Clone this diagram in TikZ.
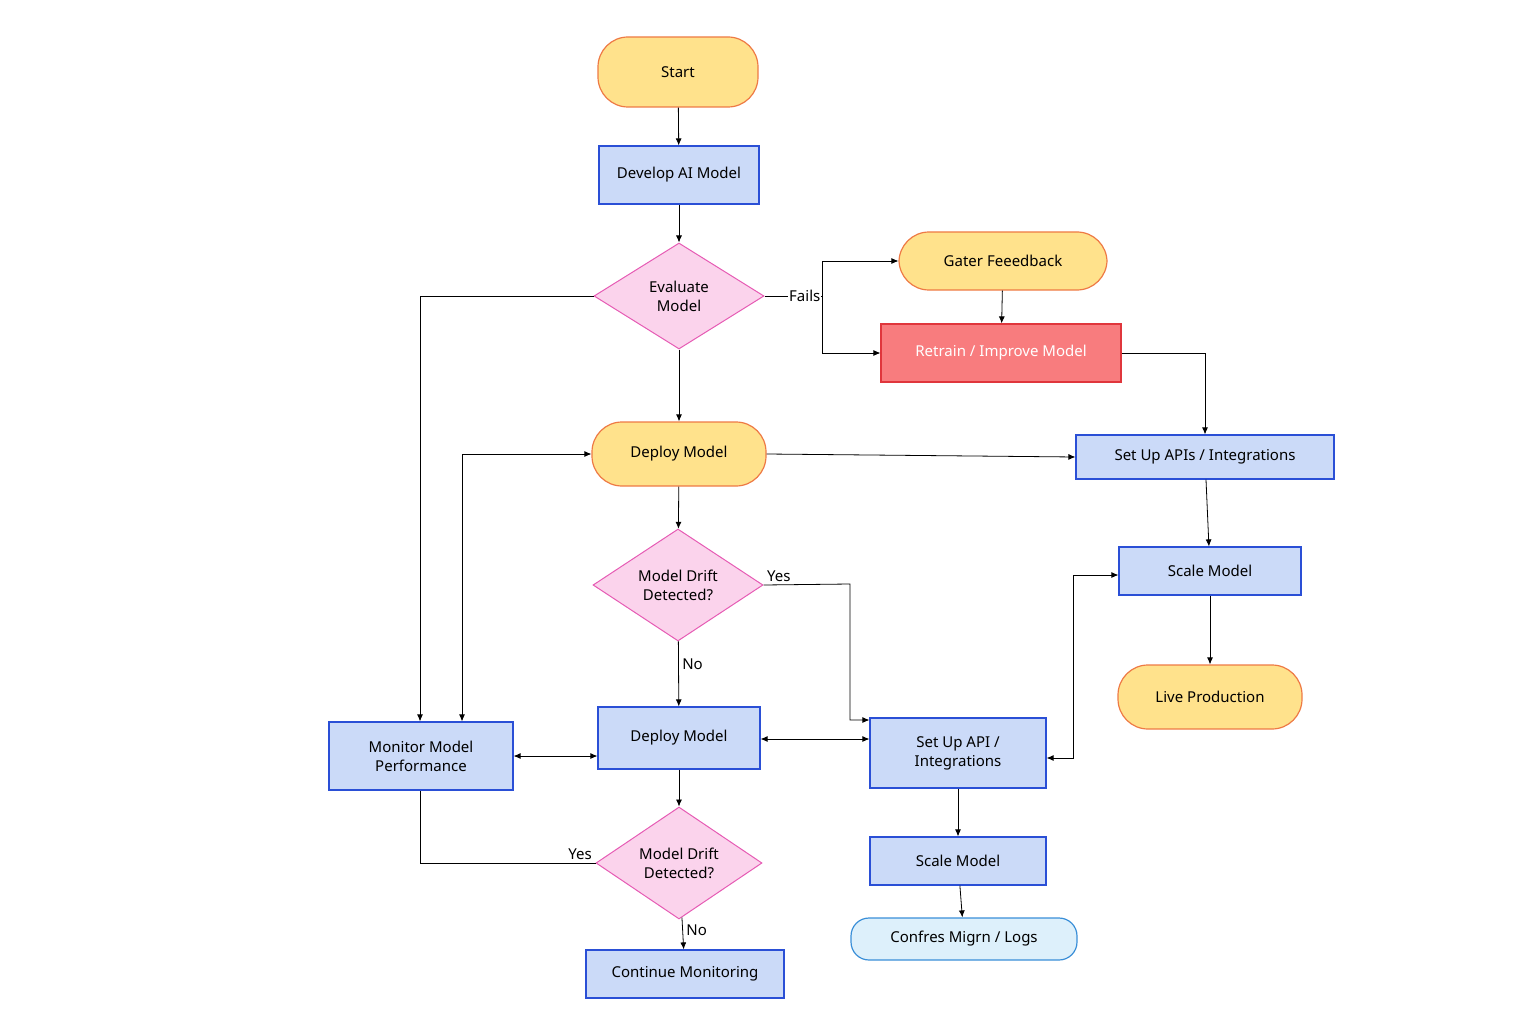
\documentclass[tikz,border=0pt]{standalone}
\usepackage{fontspec}
\setmainfont{Noto Sans}
\usetikzlibrary{shapes.geometric, arrows.meta, positioning}
\definecolor{termfill}{HTML}{FFE28C}
\definecolor{termdraw}{HTML}{EE7A45}
\definecolor{procfill}{HTML}{CBDAF8}
\definecolor{procdraw}{HTML}{2A4FD6}
\definecolor{decfill}{HTML}{FBD3EC}
\definecolor{decdraw}{HTML}{E65BB4}
\definecolor{redfill}{HTML}{F87C7E}
\definecolor{reddraw}{HTML}{E0363C}
\definecolor{logfill}{HTML}{DDF0FB}
\definecolor{logdraw}{HTML}{3A8FD8}
\tikzset{
  term/.style={draw=termdraw, fill=termfill, line width=1.2pt, rounded corners=30pt, align=center},
  proc/.style={draw=procdraw, fill=procfill, line width=1.2pt, align=center},
  dec/.style={draw=decdraw, fill=decfill, line width=1pt, diamond, align=center, inner sep=0pt},
  line/.style={line width=0.8pt, -{Latex[length=7pt,width=6pt]}},
  lab/.style={font=\fontsize{15}{18}\selectfont}
}
\begin{document}
\begin{tikzpicture}[x=1pt, y=-1pt, every node/.style={font=\fontsize{15}{19}\selectfont}]
\useasboundingbox (0,0) rectangle (1536,1024);

% left column
\node[term, minimum width=160pt, minimum height=70pt] (start) at (678,72) {Start};
\node[proc, minimum width=160pt, minimum height=58pt] (develop) at (679,175) {Develop AI Model};
\node[dec, minimum width=170pt, minimum height=106pt, aspect=1.6] (evaluate) at (679,296) {Evaluate\\Model};
\node[term, minimum width=174pt, minimum height=64pt] (deployY) at (679,454) {Deploy Model};
\node[dec, minimum width=170pt, minimum height=112pt, aspect=1.5] (drift) at (678,585) {Model Drift\\Detected?};
\node[proc, minimum width=162pt, minimum height=62pt] (deployB) at (679,738) {Deploy Model};
\node[proc, minimum width=184pt, minimum height=68pt] (monitor) at (421,756) {Monitor Model\\Performance};
\node[dec, minimum width=166pt, minimum height=112pt, aspect=1.5] (driftB) at (679,863) {Model Drift\\Detected?};
\node[proc, minimum width=198pt, minimum height=48pt] (cont) at (685,974) {Continue Monitoring};

% right side
\node[term, minimum width=208pt, minimum height=58pt] (gather) at (1003,261) {Gater Feeedback};
\node[proc, draw=reddraw, fill=redfill, text=white, minimum width=240pt, minimum height=58pt] (retrain) at (1001,353) {Retrain / Improve Model};
\node[proc, minimum width=258pt, minimum height=44pt] (apis) at (1205,457) {Set Up APIs / Integrations};
\node[proc, minimum width=182pt, minimum height=48pt] (scale) at (1210,571) {Scale Model};
\node[term, minimum width=184pt, minimum height=64pt] (live) at (1210,697) {Live Production};
\node[proc, minimum width=176pt, minimum height=70pt] (api) at (958,753) {Set Up API /\\Integrations};
\node[proc, minimum width=176pt, minimum height=48pt] (scaleB) at (958,861) {Scale Model};
\node[draw=logdraw, fill=logfill, line width=1.2pt, rounded corners=18pt, minimum width=226pt, minimum height=42pt] (logs) at (964,939) {Confres Migrn / Logs};

\coordinate (split) at (822,296);

% connectors
\draw[line] (start) -- (develop);
\draw[line] (develop) -- (evaluate);
\draw[line] (evaluate) -- (deployY);
\draw[line width=0.8pt] (evaluate.east) -- node[lab, fill=white, inner sep=1pt, pos=0.7] {Fails} (split);
\draw[line] (split) |- (gather.west);
\draw[line] (split) |- (retrain.west);
\draw[line] (gather) -- (retrain);
\draw[line] (retrain.east) -| (apis.north);
\draw[line] (evaluate.west) -| (monitor.north -| 420,0);
\draw[line] (deployY.east) -- (apis.west);
\draw[line] (deployY) -- (drift);
\draw[line, {Latex[length=7pt,width=6pt]}-{Latex[length=7pt,width=6pt]}] (monitor.north -| 462,0) |- (deployY.west);
\draw[line] (drift.east) node[lab, above right] {Yes} -- (850,584) |- (api.north west |- 0,720);
\draw[line] (drift) -- node[lab, right, pos=0.35] {No} (deployB);
\draw[line, {Latex[length=7pt,width=6pt]}-{Latex[length=7pt,width=6pt]}] (monitor.east) -- (deployB.west |- monitor.east);
\draw[line, {Latex[length=7pt,width=6pt]}-{Latex[length=7pt,width=6pt]}] (deployB.east |- 0,739) -- (api.west |- 0,739);
\draw[line] (deployB) -- (driftB);
\draw[line width=0.8pt] (driftB.west) node[lab, above left] {Yes} -| (monitor.south -| 420,0);
\draw[line] (driftB) -- node[lab, right, pos=0.4] {No} (cont);
\draw[line] (api) -- (scaleB);
\draw[line] (scaleB) -- (logs);
\draw[line] (apis) -- (scale);
\draw[line] (scale) -- (live);
\draw[line, {Latex[length=7pt,width=6pt]}-{Latex[length=7pt,width=6pt]}] (api.east |- 0,758) -- (1073,758) |- (scale.west |- 0,575);
\end{tikzpicture}
\end{document}
